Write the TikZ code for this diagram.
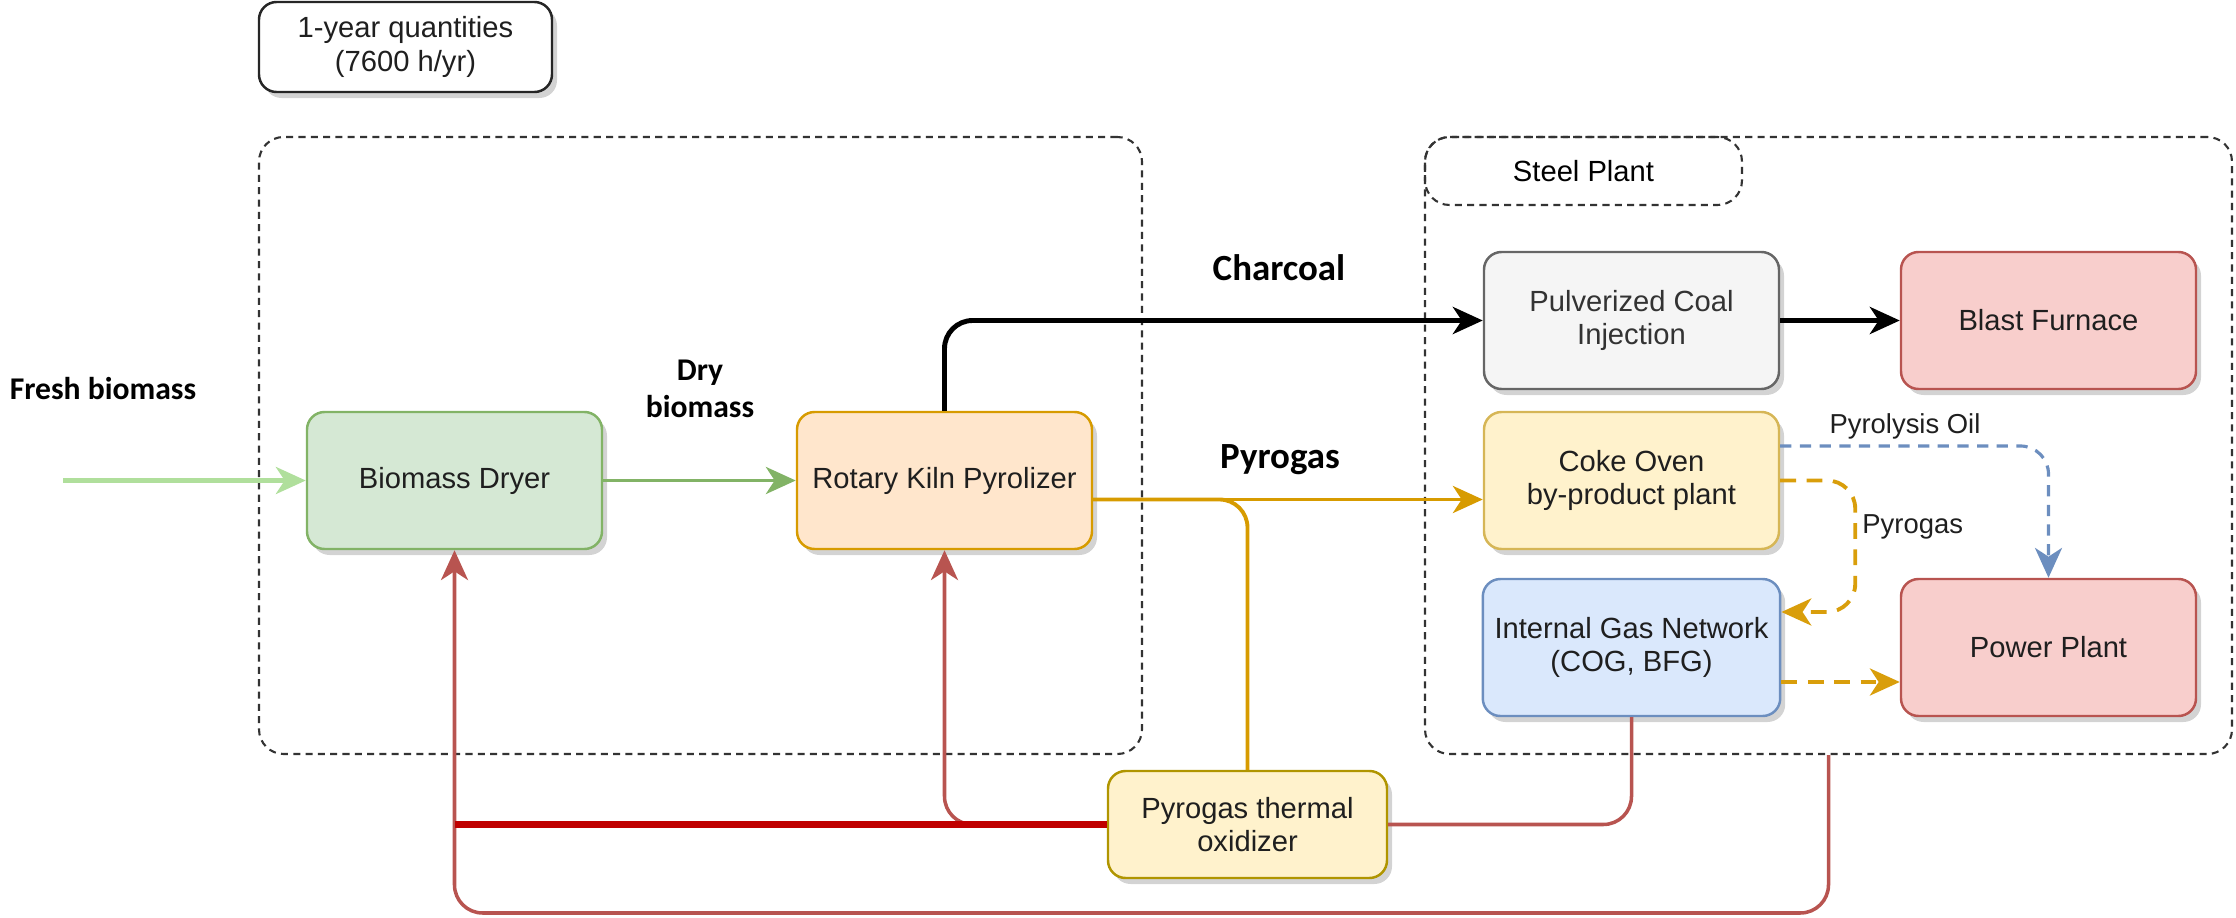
\documentclass[tikz,border=0pt]{standalone}
\usepackage{fontspec}
\setmainfont{Liberation Sans}
\newfontfamily\labelfont{Carlito}
\usepackage{tikz}
\usetikzlibrary{shapes.geometric, arrows.meta, positioning, shadows}
\definecolor{dryfill}{HTML}{D5E8D4}
\definecolor{drydraw}{HTML}{82B366}
\definecolor{freshgreen}{HTML}{B0DF9C}
\definecolor{kilnfill}{HTML}{FFE6CC}
\definecolor{kilndraw}{HTML}{D79B00}
\definecolor{yelfill}{HTML}{FFF2CC}
\definecolor{yeldraw}{HTML}{D6B656}
\definecolor{oxidraw}{HTML}{B09500}
\definecolor{greyfill}{HTML}{F5F5F5}
\definecolor{greydraw}{HTML}{666666}
\definecolor{redfill}{HTML}{F8CECC}
\definecolor{reddraw}{HTML}{B85450}
\definecolor{heatred}{HTML}{C00000}
\definecolor{bluefill}{HTML}{DAE8FC}
\definecolor{bluedraw}{HTML}{6C8EBF}
\definecolor{gasorange}{HTML}{D99E0B}
\tikzstyle{unit} = [rectangle, rounded corners=5pt, minimum width=2.95cm, minimum height=1.37cm, text centered, align=center, line width=0.7pt, font=\fontsize{8.3}{9.6}\selectfont, text=black!88, drop shadow={shadow xshift=0.05cm, shadow yshift=-0.06cm, opacity=0.35}]
\tikzstyle{container} = [rectangle, rounded corners=7pt, draw=black!80, dash pattern=on 2pt off 1.5pt, line width=0.6pt, font=\fontsize{8.3}{9.6}\selectfont]
\tikzstyle{arrow} = [->, >={Stealth[length=8.5pt, width=7.7pt, inset=2.5pt]}]
\tikzstyle{flowlabel} = [font=\labelfont\bfseries\fontsize{10.5}{12}\selectfont]
\tikzstyle{inlabel} = [font=\labelfont\bfseries\fontsize{9}{10.5}\selectfont, align=center]
\tikzstyle{edgelabel} = [font=\fontsize{7.8}{9}\selectfont, text=black!88]
\tikzstyle{heatline} = [reddraw, line width=1pt, rounded corners=8pt]
\tikzstyle{gasline} = [kilndraw, line width=1.1pt, rounded corners=8pt]
\tikzstyle{gasdash} = [gasorange, line width=1.1pt, dash pattern=on 4.5pt off 3pt, rounded corners=8pt]

\begin{document}
\begin{tikzpicture}[node distance=4.9cm]
    \useasboundingbox (0,0) rectangle (22.36,-9.18);

    % system borders
    \node (pyrobox) [container, minimum width=8.83cm, minimum height=6.17cm] at (7.005,-4.455) {};
    \node (steelbox) [container, minimum width=8.07cm, minimum height=6.17cm] at (18.285,-4.455) {};
    \node (steellbl) [container, minimum width=3.17cm, minimum height=0.68cm] at (15.835,-1.71) {Steel Plant};
    \node (qty) [unit, fill=white, draw=black!85, minimum width=2.93cm, minimum height=0.9cm] at (4.055,-0.47) {1-year quantities\\(7600 h/yr)};

    % process units
    \node (dryer) [unit, fill=dryfill, draw=drydraw] at (4.545,-4.805) {Biomass Dryer};
    \node (kiln) [unit, fill=kilnfill, draw=kilndraw, right of=dryer] {Rotary Kiln Pyrolizer};
    \node (coke) [unit, fill=yelfill, draw=yeldraw, right of=kiln, xshift=1.97cm] {Coke Oven\\by-product plant};
    \node (pci) [unit, fill=greyfill, draw=greydraw, text=black!80, above of=coke, node distance=1.6cm] {Pulverized Coal\\Injection};
    \node (ign) [unit, fill=bluefill, draw=bluedraw, below of=coke, node distance=1.67cm] {Internal Gas Network\\(COG, BFG)};
    \node (bf) [unit, fill=redfill, draw=reddraw, right of=pci, node distance=4.17cm] {Blast Furnace};
    \node (pp) [unit, fill=redfill, draw=reddraw, right of=ign, node distance=4.17cm] {Power Plant};
    \node (oxi) [unit, fill=yelfill, draw=oxidraw, minimum width=2.79cm, minimum height=1.07cm] at (12.475,-8.245) {Pyrogas thermal\\oxidizer};

    % flow labels
    \node (freshlbl) [inlabel] at (1.03,-3.89) {Fresh biomass};
    \node (drylbl) [inlabel] at (7.0,-3.89) {Dry\\biomass};
    \node (charlbl) [flowlabel] at (12.79,-2.68) {Charcoal};
    \node (pyrolbl) [flowlabel] at (12.8,-4.6) {Pyrogas};
    \node (oillbl) [edgelabel] at (19.05,-4.26) {Pyrolysis Oil};

    \coordinate (fresh) at (0.63,-4.805);
    \coordinate (loopbot) at (4.545,-9.13);

    % biomass and charcoal
    \draw [arrow, freshgreen, line width=1.2pt] (fresh) -- (dryer);
    \draw [arrow, drydraw, line width=1.1pt] (dryer) -- (kiln);
    \draw [arrow, line width=1.4pt, rounded corners=8pt] (kiln.north) |- (pci.west);
    \draw [arrow, line width=1.4pt] (pci) -- (bf);

    % pyrogas
    \draw [gasline] ([yshift=-0.19cm]kiln.east) -| (oxi.north);
    \draw [arrow, gasline] ([yshift=-0.19cm]kiln.east) -- ([yshift=-0.19cm]coke.west);
    \draw [arrow, gasdash] (coke.east) -- ++(0.75,0) |- node (gaslbl) [pos=0.175, right, inner sep=1.5pt, edgelabel, solid] {Pyrogas} ([yshift=0.355cm]ign.east);
    \draw [arrow, gasdash] ([yshift=-0.345cm]ign.east) -- ([yshift=-0.345cm]pp.west);
    \draw [arrow, bluedraw, line width=0.9pt, dash pattern=on 3.2pt off 2.4pt, rounded corners=8pt] ([yshift=0.345cm]coke.east) -| (pp.north);

    % heat
    \draw [arrow, heatline] (steelbox.south) |- (loopbot) -- (dryer.south);
    \draw [arrow, heatline] (oxi.west) -| (kiln.south);
    \draw [heatline] (ign.south) |- (oxi.east);
    \draw [heatred, line width=1.8pt] (oxi.west) -- (oxi.west -| dryer.south);
\end{tikzpicture}
\end{document}
